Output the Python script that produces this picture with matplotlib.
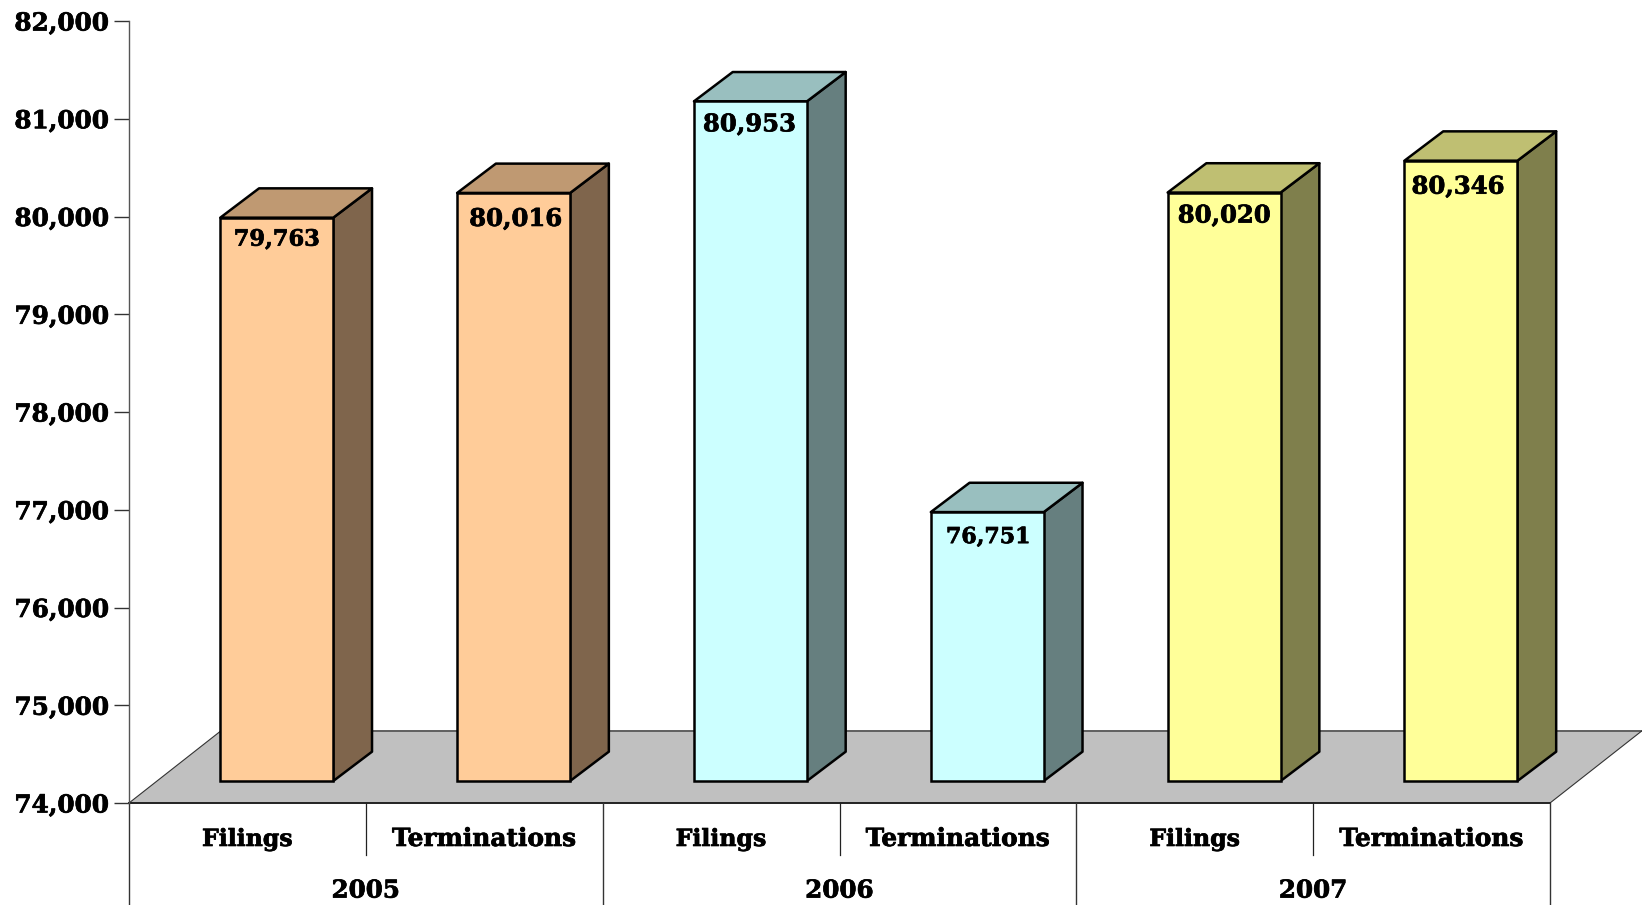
import matplotlib
matplotlib.use("Agg")
import matplotlib.pyplot as plt
import matplotlib.patheffects as pe
from matplotlib.patches import Polygon

years = ["2005", "2006", "2007"]
categories = ["Filings", "Terminations"] * 3
values = [79763, 80016, 80953, 76751, 80020, 80346]
y_ticks = [74000, 75000, 76000, 77000, 78000, 79000, 80000, 81000, 82000]

front_colors = ["#FFCC99", "#FFCC99", "#CCFFFF", "#CCFFFF", "#FFFF99", "#FFFF99"]
side_colors = ["#7F654C", "#7F654C", "#667F7F", "#667F7F", "#7F7F4C", "#7F7F4C"]
top_colors = ["#BF9972", "#BF9972", "#99BFBF", "#99BFBF", "#BFBF72", "#BFBF72"]

# 3D look, in data units
BAR_WIDTH = 0.477
BAR_SHIFT = 0.124
BASE_LIFT = 225
DEPTH_X = 0.1636
DEPTH_Y = 300
FLOOR_X = 0.389
FLOOR_Y = 740

# value labels sit a little differently on each bar (pixels)
label_dx = [0, 2, -1, 1, 0, -3]
label_dy = [-22, -26, -23, -25, -23, -26]
# the sevens and ones are narrow in the original face
label_sizes = [16.2, 17.5, 17.5, 15.9, 17.5, 17.5]
category_sizes = {"Filings": 17.0, "Terminations": 17.9}

plt.rcParams["font.family"] = "DejaVu Serif"
plt.rcParams["font.weight"] = "bold"

heavy = [pe.withStroke(linewidth=0.5, foreground="black")]

W, H = 1642, 905
fig = plt.figure(figsize=(W / 100, H / 100), dpi=100)
left, right, top, bottom = 129, 1550, 21, 803
ax = fig.add_axes([left / W, 1 - bottom / H, (right - left) / W, (bottom - top) / H])
ax.set_xlim(0, 6)
ax.set_ylim(y_ticks[0], y_ticks[-1])

for name in ["top", "right", "bottom"]:
    ax.spines[name].set_visible(False)
ax.spines["left"].set_color("#555555")
ax.spines["left"].set_linewidth(1.0)

ax.set_yticks(y_ticks)
ax.set_yticklabels([f"{v:,}" for v in y_ticks], fontsize=17.8, fontweight="bold", path_effects=heavy)
ax.tick_params(axis="y", length=10.5, width=1.0, color="#333333", pad=4)
ax.set_xticks([])

# floor
ymin = y_ticks[0]
ax.add_patch(Polygon([(0, ymin), (6, ymin), (6 + FLOOR_X, ymin + FLOOR_Y), (FLOOR_X, ymin + FLOOR_Y)],
                     closed=True, facecolor="#C0C0C0", edgecolor="none", clip_on=False, zorder=1))
ax.plot([FLOOR_X, 6 + FLOOR_X], [ymin + FLOOR_Y] * 2, color="#606060", lw=1.4, clip_on=False, zorder=1.5)
ax.plot([0, FLOOR_X], [ymin, ymin + FLOOR_Y], color="#333333", lw=0.8, clip_on=False, zorder=1.5)
ax.plot([6, 6 + FLOOR_X], [ymin, ymin + FLOOR_Y], color="#333333", lw=0.8, clip_on=False, zorder=1.5)
ax.plot([0, 6], [ymin, ymin], color="#222222", lw=1.4, clip_on=False, zorder=1.5)

# bars
for i, v in enumerate(values):
    x0 = i + 0.5 + BAR_SHIFT - BAR_WIDTH / 2
    x1 = x0 + BAR_WIDTH
    base = ymin + BASE_LIFT
    peak = v + BASE_LIFT
    ax.add_patch(Polygon([(x1, base), (x1 + DEPTH_X, base + DEPTH_Y), (x1 + DEPTH_X, peak + DEPTH_Y), (x1, peak)],
                         closed=True, facecolor=side_colors[i], edgecolor="black", lw=1.8,
                         joinstyle="round", clip_on=False, zorder=3))
    ax.add_patch(Polygon([(x0, peak), (x1, peak), (x1 + DEPTH_X, peak + DEPTH_Y), (x0 + DEPTH_X, peak + DEPTH_Y)],
                         closed=True, facecolor=top_colors[i], edgecolor="black", lw=1.8,
                         joinstyle="round", clip_on=False, zorder=3))
    ax.bar(x0 + BAR_WIDTH / 2, v - ymin, width=BAR_WIDTH, bottom=base, color=front_colors[i],
           edgecolor="black", linewidth=1.8, zorder=4, clip_on=False)
    ax.annotate(f"{v:,}", (x0 + BAR_WIDTH / 2, peak), xytext=(label_dx[i], label_dy[i]), textcoords="offset pixels",
                ha="center", va="center", fontsize=label_sizes[i], fontweight="bold", color="black", zorder=5,
                path_effects=heavy)

# category table under the floor
tr = ax.get_xaxis_transform()
for i, name in enumerate(categories):
    ax.text(i + 0.5, -0.046, name, transform=tr, ha="center", va="center", fontsize=category_sizes[name],
            fontweight="bold", path_effects=heavy)
    if i % 2 == 1:
        continue
    ax.plot([i + 1, i + 1], [0, -0.067], transform=tr, color="#222222", lw=0.9, clip_on=False)

for g, year in enumerate(years):
    ax.text(2 * g + 1, -0.112, year, transform=tr, ha="center", va="center", fontsize=17.7, fontweight="bold",
            path_effects=heavy)
    ax.plot([2 * g, 2 * g], [0, -0.14], transform=tr, color="#333333", lw=1.0, clip_on=False)
ax.plot([6, 6], [0, -0.14], transform=tr, color="#333333", lw=1.0, clip_on=False)

fig.savefig("out.png", dpi=100, facecolor="white")
